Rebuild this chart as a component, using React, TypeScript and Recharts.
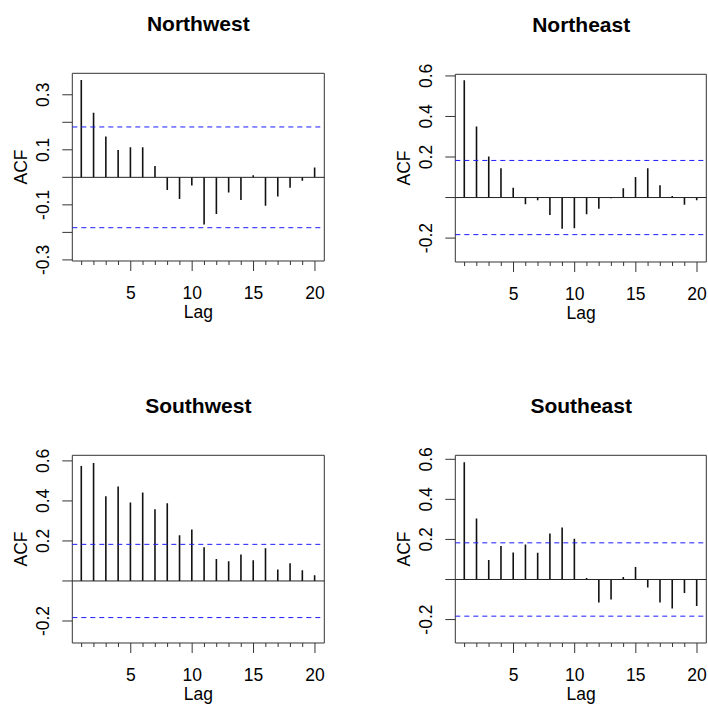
import React from "react";
import { BarChart, Bar, XAxis, YAxis, ReferenceLine, ReferenceArea } from "recharts";

const LAGS = [1, 2, 3, 4, 5, 6, 7, 8, 9, 10, 11, 12, 13, 14, 15, 16, 17, 18, 19, 20];
const LAG_LABELS = [5, 10, 15, 20];
const CONF = 0.183;

const NORTHWEST = [0.354, 0.235, 0.148, 0.099, 0.109, 0.109, 0.041, -0.046, -0.079, -0.03, -0.171, -0.133, -0.055, -0.082, 0.008, -0.103, -0.07, -0.038, -0.012, 0.036];
const NORTHEAST = [0.579, 0.35, 0.203, 0.144, 0.048, -0.033, -0.013, -0.086, -0.154, -0.152, -0.083, -0.055, -0.003, 0.046, 0.101, 0.144, 0.061, 0.008, -0.036, -0.013];
const SOUTHWEST = [0.575, 0.59, 0.423, 0.472, 0.392, 0.442, 0.358, 0.388, 0.228, 0.257, 0.168, 0.11, 0.098, 0.132, 0.103, 0.163, 0.057, 0.088, 0.053, 0.028];
const SOUTHEAST = [0.585, 0.305, 0.097, 0.167, 0.135, 0.175, 0.133, 0.23, 0.26, 0.203, 0.008, -0.115, -0.1, 0.012, 0.063, -0.04, -0.115, -0.145, -0.067, -0.132];

const NW_TICKS = [-0.3, -0.2, -0.1, 0, 0.1, 0.2, 0.3];
const NW_LABELS = [-0.3, -0.1, 0.1, 0.3];
const WIDE_TICKS = [-0.2, 0, 0.2, 0.4, 0.6];
const WIDE_LABELS = [-0.2, 0.2, 0.4, 0.6];

const X_DOMAIN: [number, number] = [0.24, 20.76];

const FONT = "'Liberation Sans', Arial, Helvetica, sans-serif";

const panels = [
  { title: "Northwest", acf: NORTHWEST, domain: [-0.304, 0.378], ticks: NW_TICKS, labels: NW_LABELS, left: 0, top: 0, plotWidth: 252 },
  { title: "Northeast", acf: NORTHEAST, domain: [-0.318, 0.608], ticks: WIDE_TICKS, labels: WIDE_LABELS, left: 383.4, top: 0.5, plotWidth: 251 },
  { title: "Southwest", acf: SOUTHWEST, domain: [-0.31, 0.628], ticks: WIDE_TICKS, labels: WIDE_LABELS, left: 0, top: 381.7, plotWidth: 252 },
  { title: "Southeast", acf: SOUTHEAST, domain: [-0.317, 0.62], ticks: WIDE_TICKS, labels: WIDE_LABELS, left: 383.4, top: 381.7, plotWidth: 251 },
];

const PLOT_LEFT = 72.3;
const PLOT_TOP = 73.3;
const PLOT_HEIGHT = 187.7;

function LagTick({ x, y, payload }: any) {
  const major = LAG_LABELS.includes(payload.value);
  return (
    <g>
      <line x1={x} x2={x} y1={y} y2={y + (major ? 10 : 4)} stroke="#333" strokeWidth={1} />
      {major && (
        <text x={x} y={y + 32} textAnchor="middle" dominantBaseline="central" fontSize={17.5} fontFamily={FONT} fill="#000">
          {payload.value}
        </text>
      )}
    </g>
  );
}

function makeAcfTick(labels: number[]) {
  return ({ x, y, payload }: any) => {
    const v = payload.value;
    const show = labels.some((l) => Math.abs(l - v) < 1e-6);
    return (
      <g>
        <line x1={x - 10} x2={x} y1={y} y2={y} stroke="#333" strokeWidth={1} />
        {show && (
          <text
            x={x - 29}
            y={y}
            transform={`rotate(-90 ${x - 29} ${y})`}
            textAnchor="middle"
            dominantBaseline="central"
            fontSize={17.5}
            fontFamily={FONT}
            fill="#000"
          >
            {v.toFixed(1)}
          </text>
        )}
      </g>
    );
  };
}

function AcfPanel({ p }: { p: (typeof panels)[number] }) {
  const data = LAGS.map((lag, i) => ({ lag, acf: p.acf[i] }));
  const width = PLOT_LEFT + p.plotWidth + 30;
  const height = PLOT_TOP + PLOT_HEIGHT + 60;
  const cx = PLOT_LEFT + p.plotWidth / 2;
  return (
    <div style={{ position: "absolute", left: p.left, top: p.top, width, height }}>
      <div
        style={{
          position: "absolute",
          left: cx,
          top: 24,
          transform: "translate(-50%, -50%)",
          fontWeight: "bold",
          fontSize: 21,
          whiteSpace: "nowrap",
        }}
      >
        {p.title}
      </div>
      <div
        style={{
          position: "absolute",
          left: 21,
          top: PLOT_TOP + PLOT_HEIGHT / 2,
          transform: "translate(-50%, -50%) rotate(-90deg)",
          fontSize: 17.5,
        }}
      >
        ACF
      </div>
      <div
        style={{
          position: "absolute",
          left: cx,
          top: PLOT_TOP + PLOT_HEIGHT + 51,
          transform: "translate(-50%, -50%)",
          fontSize: 17.5,
        }}
      >
        Lag
      </div>
      <BarChart
        width={width}
        height={height}
        data={data}
        margin={{ top: PLOT_TOP, right: 30, bottom: 0, left: 0 }}
        style={{ position: "absolute", left: 0, top: 0 }}
      >
        <XAxis
          dataKey="lag"
          type="number"
          domain={X_DOMAIN}
          allowDataOverflow
          ticks={LAGS}
          interval={0}
          axisLine={false}
          tickLine={false}
          tickSize={0}
          tickMargin={0}
          height={60}
          tick={<LagTick />}
        />
        <YAxis
          type="number"
          domain={p.domain}
          allowDataOverflow
          ticks={p.ticks}
          interval={0}
          axisLine={false}
          tickLine={false}
          tickSize={0}
          tickMargin={0}
          width={PLOT_LEFT}
          tick={makeAcfTick(p.labels)}
        />
        <Bar dataKey="acf" barSize={1.6} fill="#111" isAnimationActive={false} />
        <ReferenceLine y={0} stroke="#222" strokeWidth={1} />
        <ReferenceLine y={CONF} stroke="#1a1aff" strokeDasharray="5 4" strokeWidth={1} />
        <ReferenceLine y={-CONF} stroke="#1a1aff" strokeDasharray="5 4" strokeWidth={1} />
        <ReferenceArea
          x1={X_DOMAIN[0]}
          x2={X_DOMAIN[1]}
          y1={p.domain[0]}
          y2={p.domain[1]}
          fill="none"
          fillOpacity={0}
          stroke="#333"
          strokeWidth={1}
          ifOverflow="visible"
        />
      </BarChart>
    </div>
  );
}

export default function App() {
  return (
    <div
      style={{
        position: "absolute",
        left: 0,
        top: 0,
        width: 708,
        height: 706,
        overflow: "hidden",
        background: "#fff",
        fontFamily: FONT,
        color: "#000",
      }}
    >
      {panels.map((p) => (
        <AcfPanel key={p.title} p={p} />
      ))}
    </div>
  );
}
